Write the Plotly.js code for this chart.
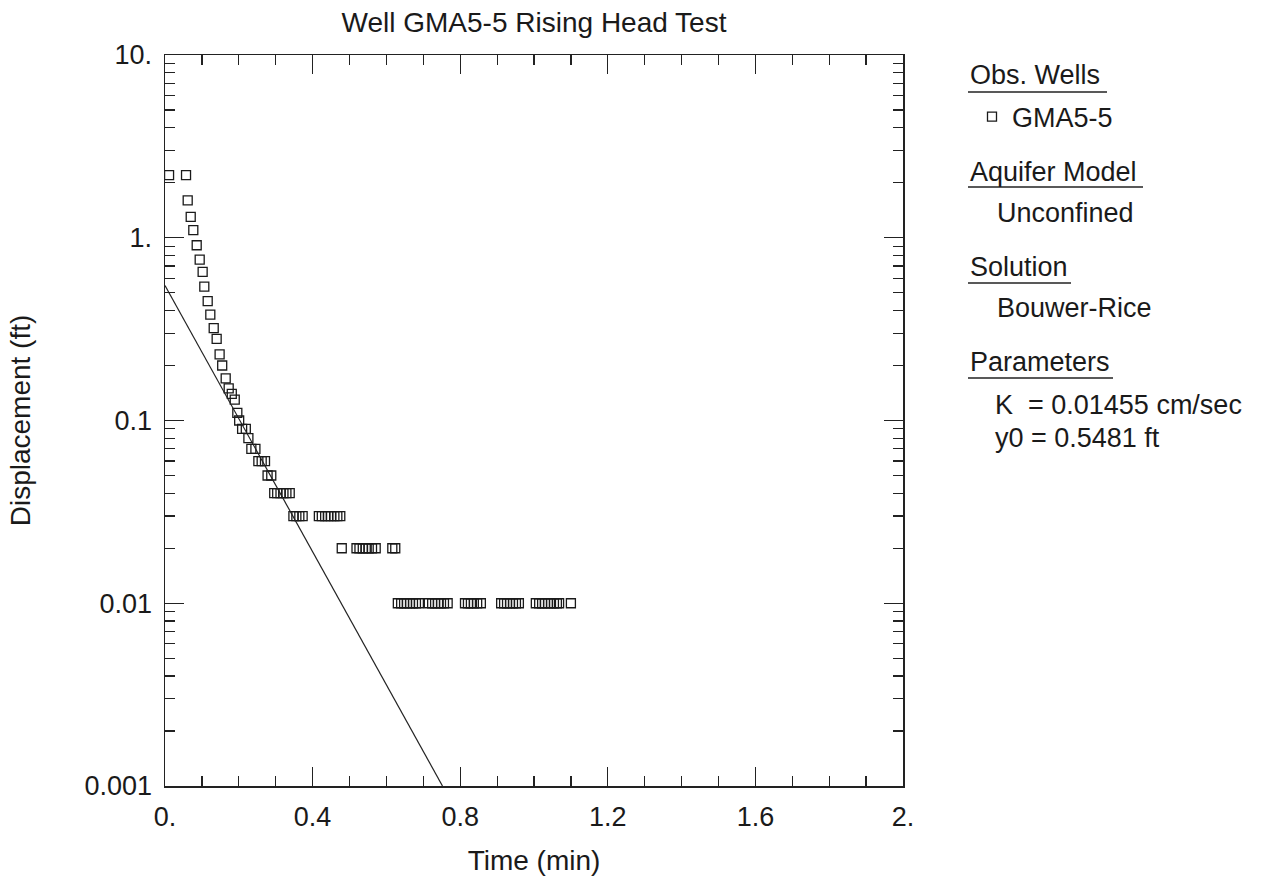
<!DOCTYPE html>
<html>
<head>
<meta charset="utf-8">
<script src="https://cdn.plot.ly/plotly-3.0.1.min.js"></script>
<style>html,body{margin:0;padding:0;background:#fff;}#chart{width:1270px;height:889px;}</style>
</head>
<body>
<div id="chart"></div>
<script>
// Observed displacement (ft) vs time (min), well GMA5-5
const obsTime = [
  0.011, 0.057, 0.0615, 0.0697, 0.0767, 0.0859, 0.094, 0.102, 0.1065, 0.1157,
  0.1228, 0.132, 0.140, 0.148, 0.155, 0.1645, 0.1726, 0.181, 0.189, 0.196,
  0.201, 0.209, 0.219, 0.226, 0.234, 0.245, 0.253, 0.262, 0.271, 0.278,
  0.288, 0.296, 0.304, 0.313, 0.321, 0.329, 0.338,
  0.348, 0.356, 0.364, 0.373,
  0.417, 0.425, 0.434, 0.442, 0.450, 0.459, 0.467, 0.475,
  0.479,
  0.519, 0.527, 0.536, 0.544, 0.552, 0.561, 0.571,
  0.616, 0.624,
  0.631, 0.640, 0.648, 0.656, 0.664, 0.672, 0.680, 0.688,
  0.715, 0.724, 0.732, 0.740, 0.748, 0.756, 0.766,
  0.813, 0.821, 0.829, 0.837, 0.846, 0.856,
  0.911, 0.919, 0.927, 0.935, 0.943, 0.951, 0.959,
  1.005, 1.014, 1.022, 1.030, 1.038, 1.046, 1.054, 1.062, 1.068,
  1.100
];
const obsDisp = [
  2.2, 2.2, 1.6, 1.3, 1.1, 0.91, 0.76, 0.65, 0.54, 0.45,
  0.38, 0.32, 0.28, 0.23, 0.20, 0.17, 0.15, 0.14, 0.13, 0.11,
  0.10, 0.09, 0.09, 0.08, 0.07, 0.07, 0.06, 0.06, 0.06, 0.05,
  0.05, 0.04, 0.04, 0.04, 0.04, 0.04, 0.04,
  0.03, 0.03, 0.03, 0.03,
  0.03, 0.03, 0.03, 0.03, 0.03, 0.03, 0.03, 0.03,
  0.02,
  0.02, 0.02, 0.02, 0.02, 0.02, 0.02, 0.02,
  0.02, 0.02,
  0.01, 0.01, 0.01, 0.01, 0.01, 0.01, 0.01, 0.01,
  0.01, 0.01, 0.01, 0.01, 0.01, 0.01, 0.01,
  0.01, 0.01, 0.01, 0.01, 0.01, 0.01,
  0.01, 0.01, 0.01, 0.01, 0.01, 0.01, 0.01,
  0.01, 0.01, 0.01, 0.01, 0.01, 0.01, 0.01, 0.01, 0.01,
  0.01
];
// Bouwer-Rice fitted straight line (semi-log)
const fitTime = [0, 0.752];
const fitDisp = [0.5481, 0.001];

const xTickVals = [0, 0.4, 0.8, 1.2, 1.6, 2];
const xTickText = ['0.', '0.4', '0.8', '1.2', '1.6', '2.'];
const yTickVals = [0.001, 0.01, 0.1, 1, 10];
const yTickText = ['0.001', '0.01', '0.1', '1.', '10.'];

const infoLines = [
  {text: 'Obs. Wells', header: true},
  {text: 'Aquifer Model', header: true},
  {text: 'Unconfined', header: false},
  {text: 'Solution', header: true},
  {text: 'Bouwer-Rice', header: false},
  {text: 'Parameters', header: true},
  {text: 'K  = 0.01455 cm/sec', header: false},
  {text: 'y0 = 0.5481 ft', header: false}
];

const FONT = 'Liberation Sans, Arial, sans-serif';
const INK = '#1a1a1a';
const L = 165, R = 903, T = 55, B = 786;
const W = R - L, H = B - T;
const px2x = p => (p - L) / W;
const py2y = p => (B - p) / H;

// layout placement for info block (pixel positions)
const infoPos = [
  {x: 968, y: 75, ulEnd: 1107, ulY: 92},
  {x: 968, y: 172, ulEnd: 1143, ulY: 187},
  {x: 995, y: 213},
  {x: 968, y: 267, ulEnd: 1071, ulY: 283},
  {x: 995, y: 308},
  {x: 968, y: 362, ulEnd: 1113, ulY: 378},
  {x: 993, y: 405},
  {x: 993, y: 438}
];

const annotations = infoLines.map((l, i) => ({
  xref: 'paper', yref: 'paper',
  x: px2x(infoPos[i].x), y: py2y(infoPos[i].y),
  xanchor: 'left', yanchor: 'middle',
  text: l.text, showarrow: false,
  font: {family: FONT, size: 27, color: INK}
}));
const shapes = infoLines.map((l, i) => l.header ? ({
  type: 'line', xref: 'paper', yref: 'paper',
  x0: px2x(infoPos[i].x), x1: px2x(infoPos[i].ulEnd),
  y0: py2y(infoPos[i].ulY), y1: py2y(infoPos[i].ulY),
  line: {color: '#222', width: 1.5}
}) : null).filter(s => s);

const traces = [
  {
    x: obsTime, y: obsDisp, type: 'scatter', mode: 'markers', name: 'GMA5-5',
    marker: {symbol: 'square-open', size: 9, color: INK, line: {width: 1.3, color: INK}},
    cliponaxis: true, showlegend: true
  },
  {
    x: fitTime, y: fitDisp, type: 'scatter', mode: 'lines', name: 'fit',
    line: {color: '#222', width: 1.2}, showlegend: false
  }
];

const layout = {
  width: 1270, height: 889,
  margin: {l: L, r: 1270 - R, t: T, b: 889 - B},
  paper_bgcolor: '#fff', plot_bgcolor: '#fff',
  font: {family: FONT, size: 27, color: INK},
  title: {text: 'Well GMA5-5 Rising Head Test', x: 0.5, xref: 'paper',
          y: 1 - 22 / 889, yref: 'container', yanchor: 'middle',
          font: {family: FONT, size: 28, color: INK}},
  xaxis: {
    range: [0, 2], showgrid: false, zeroline: false,
    showline: true, linecolor: '#222', linewidth: 1.5, mirror: 'allticks',
    ticks: 'inside', ticklen: 19, tickwidth: 1.3, tickcolor: '#222',
    tickmode: 'array', tickvals: xTickVals, ticktext: xTickText,
    ticklabelstandoff: 6,
    minor: {dtick: 0.1, ticks: 'inside', ticklen: 10, tickwidth: 1.2, tickcolor: '#222', showgrid: false},
    tickfont: {family: FONT, size: 27, color: INK},
    title: {text: 'Time (min)', standoff: 19, font: {family: FONT, size: 28, color: INK}}
  },
  yaxis: {
    type: 'log', range: [-3, 1], showgrid: false, zeroline: false,
    showline: true, linecolor: '#222', linewidth: 1.5, mirror: 'allticks',
    ticks: 'inside', ticklen: 19, tickwidth: 1.3, tickcolor: '#222',
    tickmode: 'array', tickvals: yTickVals, ticktext: yTickText,
    ticklabelstandoff: 6,
    minor: {dtick: 'D1', ticks: 'inside', ticklen: 10, tickwidth: 1.2, tickcolor: '#222', showgrid: false},
    tickfont: {family: FONT, size: 27, color: INK},
    title: {text: 'Displacement (ft)', standoff: 45, font: {family: FONT, size: 28, color: INK}}
  },
  showlegend: true,
  legend: {
    x: px2x(972), y: py2y(117), xanchor: 'left', yanchor: 'middle',
    xref: 'paper', yref: 'paper',
    bgcolor: 'rgba(0,0,0,0)', borderwidth: 0,
    font: {family: FONT, size: 27, color: INK}
  },
  annotations: annotations,
  shapes: shapes
};

Plotly.newPlot('chart', traces, layout, {staticPlot: true, displayModeBar: false});
</script>
</body>
</html>
